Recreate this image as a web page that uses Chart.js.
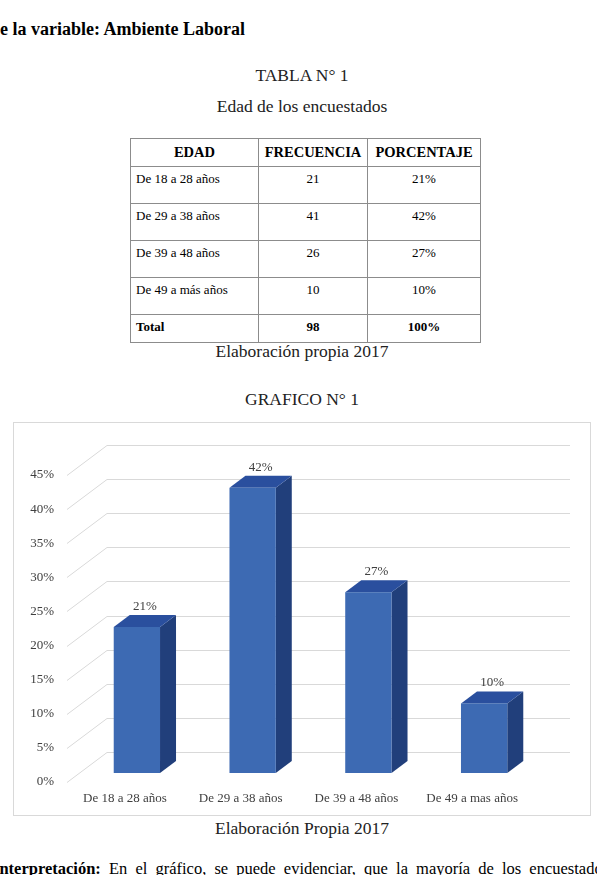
<!DOCTYPE html>
<html>
<head>
<meta charset="utf-8">
<script src="https://cdn.jsdelivr.net/npm/chart.js@4.4.1/dist/chart.umd.min.js"></script>
<style>
  body { margin: 0; background: #fff; font-family: 'Liberation Serif', 'Times New Roman', serif; color: #000; width: 597px; height: 875px; overflow: hidden; position: relative; }
  .abs { position: absolute; white-space: nowrap; }
  .center { left: 0; width: 604px; text-align: center; }
  table { position: absolute; left: 130px; top: 138px; border-collapse: collapse; font-size: 13px; }
  td, th { border: 1px solid #8c8c8c; padding: 0 5px; vertical-align: top; }
  th { font-size: 14.5px; height: 27px; vertical-align: middle; }
  td { height: 32px; padding-top: 4px; }
  td.c { text-align: center; }
  tr.total td { font-weight: bold; height: 23px; }
  #chartBox { position: absolute; left: 13px; top: 422px; width: 576px; height: 392px; border: 1px solid #d9d9d9; }
</style>
</head>
<body>
<div class="abs" style="left:0;top:19px;font-size:18px;font-weight:bold;">e la variable: Ambiente Laboral</div>
<div class="abs center" style="top:65px;font-size:17.5px;color:#222;">TABLA N° 1</div>
<div class="abs center" style="top:96px;font-size:17.5px;color:#222;">Edad de los encuestados</div>
<table id="tbl"></table>
<div class="abs center" style="top:341px;font-size:17.5px;color:#222;">Elaboración propia 2017</div>
<div class="abs center" style="top:389px;font-size:17.5px;color:#222;">GRAFICO N° 1</div>
<div id="chartBox"><canvas id="chart" width="576" height="392"></canvas></div>
<div class="abs center" style="top:818px;font-size:17.5px;color:#222;">Elaboración Propia 2017</div>
<div class="abs" style="left:-7px;top:859px;font-size:16.5px;word-spacing:4px;"><b>Interpretación:</b> En el gráfico, se puede evidenciar, que la mayoría de los encuestados</div>

<script>
// Table data
const tableLabels = ['De 18 a 28 años', 'De 29 a 38 años', 'De 39 a 48 años', 'De 49 a más años'];
const tableFreq = [21, 41, 26, 10];
const tablePct = ['21%', '42%', '27%', '10%'];
const tableTotal = ['Total', 98, '100%'];

// Chart data
const categories = ['De 18 a 28 años', 'De 29 a 38 años', 'De 39 a 48 años', 'De 49 a mas años'];
const percentages = [21.4, 41.8, 26.5, 10.2];
const yMax = 45;
const yStep = 5;

function buildTable() {
  const tbl = document.getElementById('tbl');
  let html = '<tr><th style="width:117px">EDAD</th><th style="width:98px">FRECUENCIA</th><th style="width:102px">PORCENTAJE</th></tr>';
  tableLabels.forEach((lab, i) => {
    html += `<tr><td>${lab}</td><td class="c">${tableFreq[i]}</td><td class="c">${tablePct[i]}</td></tr>`;
  });
  html += `<tr class="total"><td>${tableTotal[0]}</td><td class="c">${tableTotal[1]}</td><td class="c">${tableTotal[2]}</td></tr>`;
  tbl.innerHTML = html;
}
buildTable();

// 3D look: back wall offset and bar depth placement
const DX = 40, DY = 30;
const FRONT = 0.3, DEPTH = 0.4;
const labelFont = "13px 'Liberation Serif', 'Times New Roman', serif";

const wall3d = {
  id: 'wall3d',
  beforeDatasetsDraw(chart) {
    const { ctx, chartArea: { left, right }, scales: { y } } = chart;
    ctx.save();
    ctx.strokeStyle = '#d9d9d9';
    ctx.lineWidth = 1;
    y.ticks.forEach(t => {
      const py = Math.round(y.getPixelForValue(t.value)) + 0.5;
      ctx.beginPath();
      ctx.moveTo(left, py);
      ctx.lineTo(left + DX, py - DY);
      ctx.lineTo(right + DX, py - DY);
      ctx.stroke();
    });
    ctx.restore();
  },
  afterDatasetsDraw(chart) {
    const { ctx } = chart;
    const meta = chart.getDatasetMeta(0);
    const ox = FRONT * DX, oy = FRONT * DY;
    const dx = DEPTH * DX, dy = DEPTH * DY;
    ctx.save();
    meta.data.forEach((bar, i) => {
      const { x, y, base, width } = bar.getProps(['x', 'y', 'base', 'width'], true);
      const l = x - width / 2 + ox, r = x + width / 2 + ox;
      const t = y - oy, b = base - oy;
      // side
      ctx.fillStyle = '#213f7b';
      ctx.beginPath();
      ctx.moveTo(r, t); ctx.lineTo(r + dx, t - dy); ctx.lineTo(r + dx, b - dy); ctx.lineTo(r, b);
      ctx.closePath(); ctx.fill();
      // top
      ctx.fillStyle = '#2a4f9e';
      ctx.beginPath();
      ctx.moveTo(l, t); ctx.lineTo(l + dx, t - dy); ctx.lineTo(r + dx, t - dy); ctx.lineTo(r, t);
      ctx.closePath(); ctx.fill();
      // front
      ctx.fillStyle = '#3d6ab3';
      ctx.fillRect(l, t, r - l, b - t);
      // value label
      ctx.fillStyle = '#404040';
      ctx.font = labelFont;
      ctx.textAlign = 'center';
      ctx.textBaseline = 'bottom';
      ctx.fillText(Math.round(percentages[i]) + '%', x + ox + dx / 2, t - dy - 2);
    });
    ctx.restore();
  }
};

new Chart(document.getElementById('chart'), {
  type: 'bar',
  data: {
    labels: categories,
    datasets: [{
      data: percentages,
      backgroundColor: 'rgba(0,0,0,0)',
      barPercentage: 0.4,
      categoryPercentage: 1
    }]
  },
  options: {
    responsive: false,
    animation: false,
    layout: { padding: { top: 52, right: 60, left: 0, bottom: 0 } },
    plugins: { legend: { display: false }, tooltip: { enabled: false } },
    scales: {
      x: {
        grid: { display: false, drawTicks: false },
        border: { display: false },
        ticks: { color: '#404040', padding: 9, maxRotation: 0, font: { family: "'Liberation Serif', 'Times New Roman', serif", size: 13 } },
        afterFit: s => { s.height = 33; }
      },
      y: {
        min: 0,
        max: yMax,
        grid: { display: false, drawTicks: false },
        border: { display: false },
        ticks: { stepSize: yStep, padding: 13, color: '#404040', callback: v => v + '%', font: { family: "'Liberation Serif', 'Times New Roman', serif", size: 13 } },
        afterFit: s => { s.width = 53; }
      }
    }
  },
  plugins: [wall3d]
});
</script>
</body>
</html>
